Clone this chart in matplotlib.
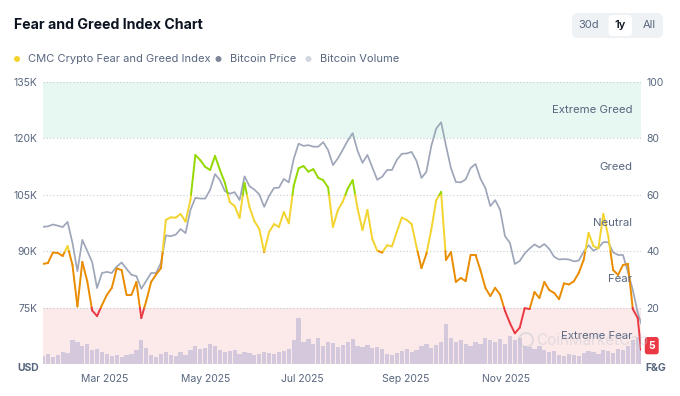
import numpy as np
import pandas as pd
import matplotlib
matplotlib.use("Agg")
import matplotlib.pyplot as plt
import matplotlib.dates as mdates
import matplotlib.transforms as mtransforms
from matplotlib.collections import LineCollection
from matplotlib.patches import FancyBboxPatch, Rectangle, Circle

plt.rcParams["font.family"] = ["Inter", "DejaVu Sans"]

# =========================
# data (3-day samples)
# =========================
dates = list(pd.date_range("2025-02-06", periods=122, freq="3D")) + [pd.Timestamp("2026-02-06")]

# Bitcoin price, thousand USD
btc_price = [
    96.5, 96.6, 97.1, 96.8, 96.4, 97.8, 92.2, 84.7, 93.0, 90.1,
    87.1, 80.2, 84.2, 84.5, 84.2, 85.9, 87.0, 85.3, 83.7, 83.4,
    80.0, 82.1, 84.2, 84.2, 86.9, 94.2, 94.0, 94.4, 95.9, 94.8,
    101.0, 104.2, 104.0, 104.0, 106.3, 110.5, 108.9, 106.0, 105.3, 105.7,
    103.6, 109.9, 107.3, 106.4, 105.1, 101.8, 104.7, 106.8, 106.9, 109.2,
    108.3, 114.5, 118.6, 118.0, 118.2, 117.8, 117.8, 119.0, 116.9, 112.9,
    114.7, 117.0, 119.4, 121.4, 116.7, 113.5, 115.6, 112.3, 109.0, 109.8,
    111.6, 111.6, 114.3, 115.9, 116.0, 116.4, 114.0, 109.5, 111.1, 118.0,
    122.6, 124.3, 118.0, 112.1, 108.4, 108.3, 109.1, 112.1, 113.2, 109.3,
    106.8, 102.0, 103.6, 101.0, 94.0, 92.2, 86.6, 87.4, 89.4, 90.7,
    91.8, 91.0, 91.9, 90.6, 88.5, 87.8, 87.9, 87.8, 87.3, 87.5,
    89.9, 91.6, 90.1, 90.9, 92.4, 92.4, 89.7, 89.0, 89.0, 84.5,
    79.7, 73.6, 70.9,
]

# CMC Fear & Greed index (0-100)
fear_greed = [
    35.5, 35.8, 39.5, 39.4, 38.3, 41.8, 35.1, 20.4, 36.2, 29.4,
    19.0, 17.0, 20.9, 24.5, 27.0, 33.9, 33.3, 24.5, 24.5, 29.1,
    16.3, 22.3, 29.1, 31.7, 34.0, 51.1, 52.0, 51.9, 53.2, 50.5,
    58.2, 74.1, 72.3, 69.9, 68.8, 73.8, 68.8, 64.3, 57.4, 56.0,
    51.8, 64.2, 55.7, 50.7, 47.9, 39.7, 46.8, 49.6, 48.6, 53.9,
    49.9, 63.1, 69.4, 70.2, 68.2, 69.1, 66.0, 65.2, 62.6, 48.6,
    54.6, 57.6, 62.2, 65.2, 55.1, 47.5, 54.6, 44.3, 40.2, 39.5,
    42.1, 41.7, 46.9, 51.9, 51.1, 49.6, 41.5, 34.0, 39.0, 47.7,
    58.0, 61.0, 36.9, 39.7, 29.1, 30.5, 29.4, 38.7, 38.7, 33.3,
    27.0, 24.1, 27.0, 24.6, 18.8, 14.5, 10.9, 12.9, 19.8, 19.5,
    25.5, 23.4, 29.1, 26.2, 25.2, 23.0, 28.6, 28.2, 29.3, 32.3,
    36.9, 46.5, 41.8, 41.0, 53.2, 45.4, 33.3, 31.6, 35.1, 35.5,
    19.5, 16.3, 5,
]

# Bitcoin volume, billion USD
btc_volume = [
    20, 25, 18, 22, 30, 28, 60, 55, 45, 50,
    35, 38, 30, 25, 20, 22, 18, 22, 25, 35,
    60, 40, 22, 18, 25, 30, 22, 20, 30, 22,
    35, 45, 38, 40, 50, 45, 35, 30, 32, 35,
    25, 30, 28, 22, 25, 30, 28, 25, 30, 32,
    38, 60, 115, 55, 62, 50, 65, 45, 55, 52,
    42, 48, 55, 62, 45, 42, 48, 40, 42, 38,
    25, 22, 28, 32, 38, 30, 35, 45, 50, 40,
    48, 55, 100, 65, 55, 60, 50, 45, 55, 50,
    65, 60, 55, 62, 50, 70, 60, 65, 45, 42,
    38, 45, 35, 30, 32, 22, 20, 25, 22, 20,
    28, 32, 30, 25, 35, 32, 28, 38, 35, 45,
    60, 68, 70,
]

price_ticks = [75, 90, 105, 120, 135]
fg_ticks = [20, 40, 60, 80, 100]
month_ticks = ["2025-03-01", "2025-05-01", "2025-07-01", "2025-09-01", "2025-11-01"]

zone_names = ["Extreme Fear", "Fear", "Neutral", "Greed", "Extreme Greed"]
zone_edges = [0, 20, 40, 60, 80, 100]
zone_colors = ["#ea3943", "#ea8c00", "#f3d42f", "#93d900", "#16c784"]

GREY_TXT = "#58667e"
DARK = "#0d1421"

# =========================
# layout
# =========================
W, H = 680, 396
L, R, T, B = 43, 641, 82, 364
fig = plt.figure(figsize=(W / 100, H / 100), dpi=100)
ax = fig.add_axes([L / W, 1 - B / H, (R - L) / W, (B - T) / H])
ax_p = ax.twinx()
ax_f = ax.twinx()

x = mdates.date2num(dates)
xmin = mdates.date2num(pd.Timestamp("2025-02-06"))
xmax = mdates.date2num(pd.Timestamp("2026-02-06"))
for a in (ax, ax_p, ax_f):
    a.set_xlim(xmin, xmax)
    for s in a.spines.values():
        s.set_visible(False)

# bands + volume on the base axes
ax.add_patch(Rectangle((0, 0.8), 1, 0.2, transform=ax.transAxes, color="#e7f7f1", lw=0, zorder=0))
ax.add_patch(Rectangle((0, 0), 1, 0.2, transform=ax.transAxes, color="#fce9ea", lw=0, zorder=0))
ax.bar(x, btc_volume, width=2.6, color="#d0c6db", alpha=0.9, lw=0, zorder=1)
ax.set_ylim(0, 705)
ax.set_yticks([])
ax.set_xticks(mdates.date2num(pd.to_datetime(month_ticks)))
ax.set_xticklabels([pd.Timestamp(m).strftime("%b %Y") for m in month_ticks], ha="left")
ax.tick_params(axis="x", length=0, pad=7, labelsize=7.5, labelcolor=GREY_TXT)

# price
ax_p.yaxis.tick_left()
ax_p.set_ylim(60, 135)
ax_p.set_yticks(price_ticks)
ax_p.set_yticklabels([f"{v}K" for v in price_ticks])
ax_p.tick_params(axis="y", length=0, pad=4, labelsize=7.5, labelcolor=GREY_TXT)
ax_p.grid(axis="y", ls=(0, (1, 2)), color="#c6cbd3", lw=0.8)
ax_p.plot(x, btc_price, color="#9ea6b9", lw=1.25, zorder=2)

# fear & greed, coloured by zone
def zone_color(v):
    for lo, hi, c in zip(zone_edges[:-1], zone_edges[1:], zone_colors):
        if v < hi:
            return c
    return zone_colors[-1]

segs, cols = [], []
yv = np.array(fear_greed, dtype=float)
for i in range(len(x) - 1):
    xa, ya, xb, yb = x[i], yv[i], x[i + 1], yv[i + 1]
    pts = [(xa, ya)]
    cuts = sorted([t for t in zone_edges[1:-1] if min(ya, yb) < t < max(ya, yb)], reverse=yb < ya)
    for t in cuts:
        f = (t - ya) / (yb - ya)
        pts.append((xa + f * (xb - xa), t))
    pts.append((xb, yb))
    for p0, p1 in zip(pts[:-1], pts[1:]):
        segs.append([p0, p1])
        cols.append(zone_color((p0[1] + p1[1]) / 2))
ax_f.add_collection(LineCollection(segs, colors=cols, linewidths=1.4, capstyle="round", zorder=3))
ax_f.set_ylim(0, 100)
ax_f.set_yticks(fg_ticks)
ax_f.tick_params(axis="y", length=0, pad=4, labelsize=7.5, labelcolor=GREY_TXT)

blend = mtransforms.blended_transform_factory(ax_f.transAxes, ax_f.transData)
for name, lo, hi in zip(zone_names, zone_edges[:-1], zone_edges[1:]):
    ax_f.text(0.985, (lo + hi) / 2, name, transform=blend, ha="right", va="center",
              fontsize=8.2, color=GREY_TXT, zorder=4)

ax_f.text(1.018, fear_greed[-1] + 1.5, str(fear_greed[-1]), transform=blend, ha="center", va="center",
          fontsize=7.5, fontweight="bold", color="white", clip_on=False, zorder=6,
          bbox=dict(boxstyle="round,pad=0.35,rounding_size=0.25", fc="#ea3943", ec="none"))

# =========================
# header / overlay (pixel coords)
# =========================
axo = fig.add_axes([0, 0, 1, 1], zorder=5)
axo.set_xlim(0, W)
axo.set_ylim(H, 0)
axo.axis("off")

axo.text(14, 25, "Fear and Greed Index Chart", fontsize=10.2, fontweight="bold", color=DARK, va="center")

legend = [("CMC Crypto Fear and Greed Index", "#f3d42f", 17), ("Bitcoin Price", "#7f8798", 218.5),
          ("Bitcoin Volume", "#d2d6de", 308.5)]
for label, c, lx in legend:
    axo.add_patch(Circle((lx, 59), 3, color=c, lw=0))
    axo.text(lx + 11, 59, label, fontsize=8, color=GREY_TXT, va="center")

axo.add_patch(FancyBboxPatch((572, 13), 91, 25, boxstyle="round,pad=0,rounding_size=6",
                             fc="#eff2f5", ec="none"))
axo.add_patch(FancyBboxPatch((608.5, 15), 23.5, 21, boxstyle="round,pad=0,rounding_size=4",
                             fc="white", ec="none"))
axo.text(589, 25.5, "30d", fontsize=8, color=GREY_TXT, ha="center", va="center")
axo.text(620.5, 25.5, "1y", fontsize=8, color=DARK, fontweight="semibold", ha="center", va="center")
axo.text(649, 25.5, "All", fontsize=8, color=GREY_TXT, ha="center", va="center")

axo.text(39, 368, "USD", fontsize=7.5, fontweight="bold", color=GREY_TXT, ha="right", va="center")
axo.text(645, 368, "F&G", fontsize=7.5, fontweight="bold", color=GREY_TXT, ha="left", va="center")

# faint watermark, sits behind the "Extreme Fear" label like the original
axo.add_patch(Circle((526, 340), 7, fc="none", ec="#c3c8d1", lw=1.5, alpha=0.45))
axo.text(536, 340, "CoinMarketCap", fontsize=11, color="#c3c8d1", alpha=0.45, va="center")

fig.savefig("out.png", dpi=100)
